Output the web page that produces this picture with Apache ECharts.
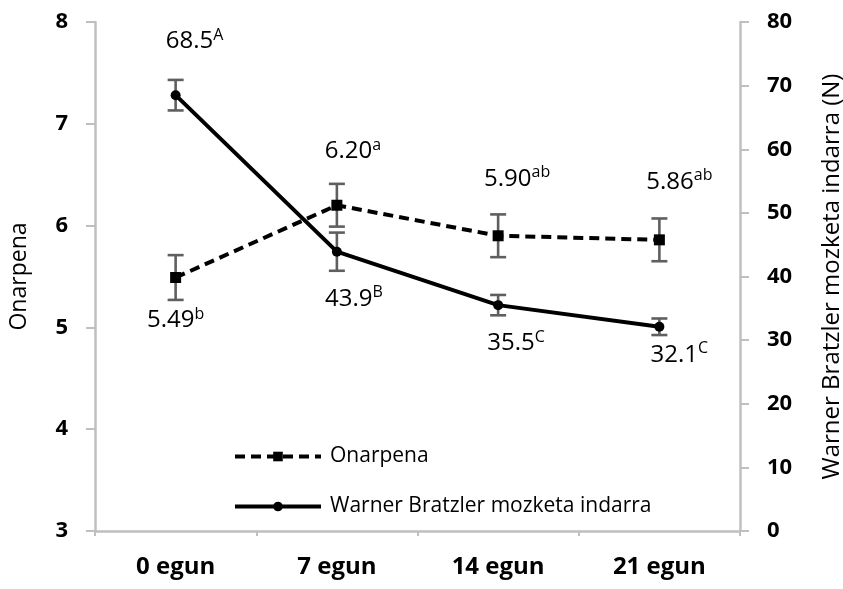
<!DOCTYPE html>
<html>
<head>
<meta charset="utf-8">
<script src="https://cdn.jsdelivr.net/npm/echarts@6/dist/echarts.min.js"></script>
<style>
  html, body { margin: 0; padding: 0; background: #fff; }
  #chart { width: 843px; height: 589px; }
</style>
</head>
<body>
<div id="chart"></div>
<script>
// ---- data ----
const categories = ['0 egun', '7 egun', '14 egun', '21 egun'];
const onarpena = [5.49, 6.20, 5.90, 5.86];
const onarpenaErr = [0.22, 0.21, 0.21, 0.21];
const onarpenaLetters = ['b', 'a', 'ab', 'ab'];
const warner = [68.5, 43.9, 35.5, 32.1];
const warnerErr = [2.4, 3.0, 1.6, 1.3];
const warnerLetters = ['A', 'B', 'C', 'C'];
const leftAxis = { min: 3, max: 8, interval: 1 };
const rightAxis = { min: 0, max: 80, interval: 10 };

// ---- styling (label offsets relative to marker) ----
const onarpenaLabelOffsets = [[0, 43], [16, -54], [19, -57], [20, -58]];
const warnerLabelOffsets = [[19, -54], [17, 47], [18, 38], [20, 28]];

const FONT = 'Open Sans';
const AXIS_GRAY = '#BFBFBF';
const ERR_GRAY = '#5f5f5f';
const DASH = [10, 6];

function labelRich() {
  return {
    v: { fontFamily: FONT, fontSize: 24, color: '#000', lineHeight: 28 },
    s: { fontFamily: FONT, fontSize: 16, color: '#000', lineHeight: 16, verticalAlign: 'top' }
  };
}

function buildLineData(values, letters, offsets, digits) {
  return values.map((v, i) => ({
    value: v,
    label: {
      show: true,
      position: 'inside',
      offset: offsets[i],
      formatter: '{v|' + v.toFixed(digits) + '}{s|' + letters[i] + '}',
      rich: labelRich()
    }
  }));
}

function errRender(params, api) {
  const x = api.value(0), y = api.value(1), e = api.value(2);
  const top = api.coord([x, y + e]);
  const bot = api.coord([x, y - e]);
  const hw = 8;
  const style = { stroke: ERR_GRAY, lineWidth: 2.6 };
  return {
    type: 'group',
    children: [
      { type: 'line', shape: { x1: top[0], y1: top[1], x2: bot[0], y2: bot[1] }, style },
      { type: 'line', shape: { x1: top[0] - hw, y1: top[1], x2: top[0] + hw, y2: top[1] }, style },
      { type: 'line', shape: { x1: bot[0] - hw, y1: bot[1], x2: bot[0] + hw, y2: bot[1] }, style }
    ]
  };
}

const chart = echarts.init(document.getElementById('chart'), null, { renderer: 'canvas' });
const option = {
  animation: false,
  backgroundColor: '#fff',
  grid: { left: 95, right: 103, top: 22, bottom: 58, containLabel: false, outerBoundsMode: 'none' },
  legend: {
    orient: 'vertical',
    left: 228,
    top: 441,
    itemWidth: 86,
    itemHeight: 12,
    itemGap: 29,
    data: [
      { name: 'Onarpena', lineStyle: { width: 4, type: DASH } },
      { name: 'Warner Bratzler mozketa indarra', lineStyle: { width: 4 } }
    ],
    textStyle: { fontFamily: FONT, fontSize: 21, color: '#000', padding: [0, 0, 0, 4] }
  },
  xAxis: {
    type: 'category',
    data: categories,
    boundaryGap: true,
    axisLine: { lineStyle: { color: AXIS_GRAY, width: 2.5 } },
    axisTick: { show: true, length: 5, lineStyle: { color: AXIS_GRAY, width: 2 } },
    axisLabel: { margin: 24, fontFamily: FONT, fontSize: 24, fontWeight: 'bold', color: '#000' },
    splitLine: { show: false }
  },
  yAxis: [
    {
      type: 'value', min: leftAxis.min, max: leftAxis.max, interval: leftAxis.interval,
      position: 'left',
      name: 'Onarpena', nameLocation: 'middle', nameGap: 64,
      nameTextStyle: { fontFamily: FONT, fontSize: 23, color: '#000' },
      axisLine: { show: true, lineStyle: { color: AXIS_GRAY, width: 2.5 } },
      axisTick: { show: true, length: 9, lineStyle: { color: AXIS_GRAY, width: 2 } },
      axisLabel: { margin: 27, fontFamily: FONT, fontSize: 22, fontWeight: 'bold', color: '#000' },
      splitLine: { show: false }
    },
    {
      type: 'value', min: rightAxis.min, max: rightAxis.max, interval: rightAxis.interval,
      position: 'right',
      name: 'Warner Bratzler mozketa indarra (N)', nameLocation: 'middle', nameGap: 80,
      nameRotate: 90,
      nameTextStyle: { fontFamily: FONT, fontSize: 24, color: '#000' },
      axisLine: { show: true, lineStyle: { color: AXIS_GRAY, width: 2.5 } },
      axisTick: { show: true, length: 9, lineStyle: { color: AXIS_GRAY, width: 2 } },
      axisLabel: { margin: 27, fontFamily: FONT, fontSize: 22, fontWeight: 'bold', color: '#000' },
      splitLine: { show: false }
    }
  ],
  series: [
    {
      type: 'custom', name: 'errO', yAxisIndex: 0, z: 1,
      renderItem: errRender,
      encode: { x: 0, y: 1 },
      data: onarpena.map((v, i) => [i, v, onarpenaErr[i]])
    },
    {
      type: 'custom', name: 'errW', yAxisIndex: 1, z: 1,
      renderItem: errRender,
      encode: { x: 0, y: 1 },
      data: warner.map((v, i) => [i, v, warnerErr[i]])
    },
    {
      type: 'line', name: 'Onarpena', yAxisIndex: 0, z: 3,
      symbol: 'rect', symbolSize: 11,
      itemStyle: { color: '#000' },
      lineStyle: { color: '#000', width: 4, type: DASH },
      data: buildLineData(onarpena, onarpenaLetters, onarpenaLabelOffsets, 2)
    },
    {
      type: 'line', name: 'Warner Bratzler mozketa indarra', yAxisIndex: 1, z: 3,
      symbol: 'circle', symbolSize: 10,
      itemStyle: { color: '#000' },
      lineStyle: { color: '#000', width: 4, type: 'solid' },
      data: buildLineData(warner, warnerLetters, warnerLabelOffsets, 1)
    }
  ]
};
chart.setOption(option);
</script>
</body>
</html>
